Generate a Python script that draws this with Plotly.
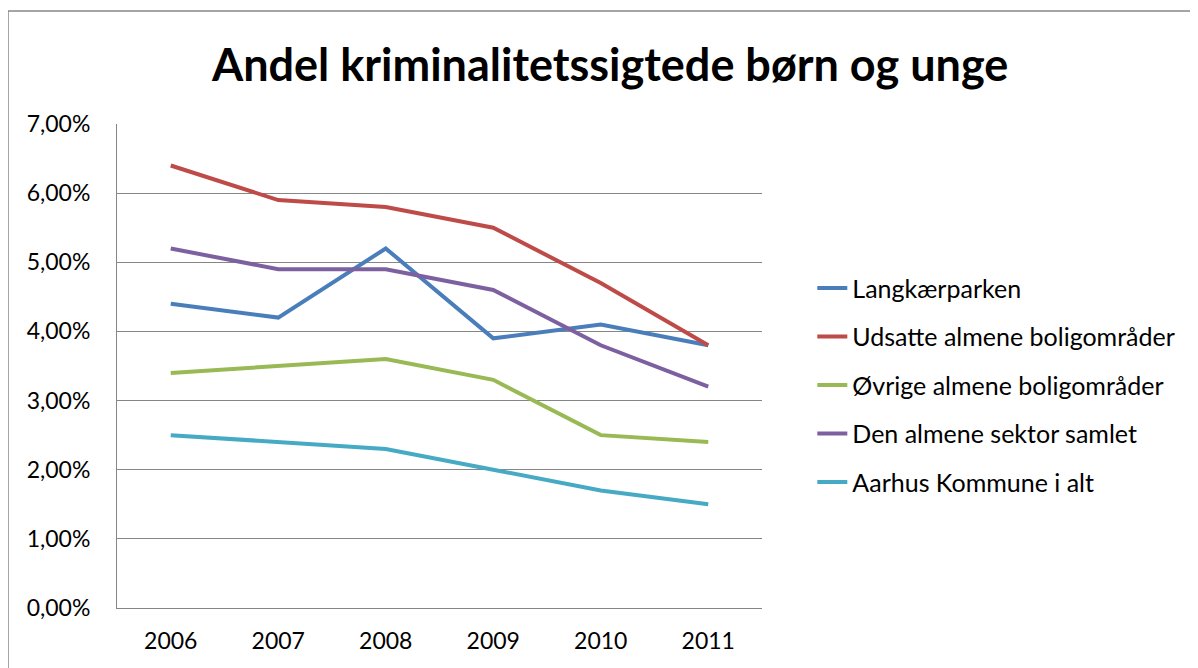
import plotly.graph_objects as go

years = ["2006", "2007", "2008", "2009", "2010", "2011"]
langkaerparken = [0.044, 0.042, 0.052, 0.039, 0.041, 0.038]
udsatte = [0.064, 0.059, 0.058, 0.055, 0.047, 0.038]
oevrige = [0.034, 0.035, 0.036, 0.033, 0.025, 0.024]
almene_samlet = [0.052, 0.049, 0.049, 0.046, 0.038, 0.032]
aarhus = [0.025, 0.024, 0.023, 0.020, 0.017, 0.015]

series = [
    ("Langkærparken", langkaerparken, "#4A7EBB"),
    ("Udsatte almene boligområder", udsatte, "#BE4B48"),
    ("Øvrige almene boligområder", oevrige, "#98B954"),
    ("Den almene sektor samlet", almene_samlet, "#7D60A0"),
    ("Aarhus Kommune i alt", aarhus, "#46AAC5"),
]

font_family = "Lato, 'Open Sans', sans-serif"

fig = go.Figure()
for i, (name, vals, col) in enumerate(series):
    fig.add_trace(go.Scatter(x=years, y=vals, name=name, mode="lines",
                             legendgroup=f"g{i}",
                             line=dict(color=col, width=4)))

W, H = 1190, 660
L, T, R, B = 109, 116, 436, 60
pw, ph = W - L - R, H - T - B

fig.update_layout(
    width=W, height=H,
    margin=dict(l=L, r=R, t=T, b=B),
    paper_bgcolor="white", plot_bgcolor="white",
    separators=",.",
    font=dict(family=font_family, size=23, color="black"),
    title=dict(text="<b>Andel kriminalitetssigtede børn og unge</b>",
               x=0.506, xanchor="center", y=0.914, yanchor="middle",
               font=dict(size=45, family=font_family, color="black")),
    xaxis=dict(type="category", range=[-0.5, 5.5], showgrid=False, showline=True,
               linecolor="#868686", linewidth=1, ticks="", ticklabelstandoff=12,
               tickfont=dict(size=23)),
    yaxis=dict(range=[0, 0.07], dtick=0.01, tickformat=".2%",
               showgrid=True, gridcolor="#868686", gridwidth=1,
               showline=True, linecolor="#868686", linewidth=1,
               zeroline=False, ticks="", ticklabelstandoff=21,
               tickfont=dict(size=23)),
    legend=dict(x=1.078, xanchor="left", y=0.46, yanchor="middle",
                font=dict(size=25), tracegroupgap=13, itemwidth=30,
                bgcolor="rgba(0,0,0,0)"),
    shapes=[dict(type="rect", xref="paper", yref="paper",
                 x0=(8 - 117) / pw, x1=1.8, y0=-0.3, y1=(608 - 11) / ph,
                 line=dict(color="#888888", width=1.5), layer="below")],
    showlegend=True,
)

fig.write_html("out.html")
